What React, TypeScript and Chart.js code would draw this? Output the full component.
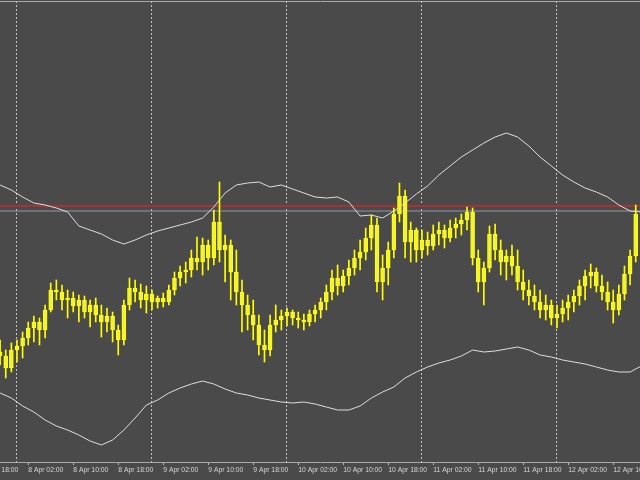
import { useEffect, useRef } from "react";
import { Chart, registerables } from "chart.js";

Chart.register(...registerables);

// Hourly candles, hours counted from 7 Apr 00:00; first candle = 7 Apr 21:00
const firstCandleHour = 21;

// Prices in points
const opens = [
  110, 106, 94, 112, 116, 124, 134, 140, 132, 152, 172, 170, 162, 164, 156, 162, 150, 157, 147, 140,
  146, 132, 122, 157, 174, 170, 162, 168, 160, 164, 160, 172, 184, 190, 192, 204, 200, 217, 204, 240,
  212, 217, 190, 170, 157, 147, 137, 117, 112, 137, 142, 146, 150, 144, 142, 140, 148, 152, 160, 170,
  184, 176, 186, 194, 204, 210, 224, 237, 180, 194, 212, 248, 266, 220, 232, 212, 222, 216, 228, 232,
  224, 234, 238, 242, 250, 204, 180, 194, 228, 212, 200, 206, 196, 180, 172, 166, 160, 152, 157, 144,
  148, 154, 160, 166, 176, 186, 190, 176, 170, 160, 152, 168, 188, 206,
];
const highs = [
  122, 112, 119, 122, 130, 140, 146, 144, 157, 179, 182, 177, 172, 170, 167, 166, 162, 164, 157, 154,
  150, 137, 162, 184, 182, 178, 176, 172, 166, 169, 177, 190, 196, 200, 212, 225, 224, 222, 252, 280,
  227, 222, 212, 182, 167, 162, 147, 132, 147, 157, 152, 154, 152, 150, 148, 152, 157, 164, 177, 192,
  197, 192, 202, 212, 222, 234, 247, 244, 207, 220, 254, 279, 272, 240, 234, 232, 230, 237, 240, 237,
  242, 244, 248, 255, 254, 212, 200, 236, 238, 222, 212, 217, 212, 192, 182, 177, 172, 167, 162, 157,
  162, 167, 172, 182, 192, 198, 194, 187, 180, 172, 177, 196, 212, 257,
];
const lows = [
  97, 84, 90, 100, 104, 117, 120, 117, 124, 150, 162, 152, 144, 150, 140, 144, 135, 140, 125, 130,
  120, 107, 117, 152, 160, 154, 149, 152, 154, 155, 157, 167, 176, 179, 185, 192, 187, 192, 197, 200,
  180, 162, 157, 130, 132, 122, 107, 100, 106, 130, 132, 136, 137, 134, 132, 136, 140, 144, 152, 162,
  167, 170, 177, 187, 192, 202, 212, 170, 162, 177, 204, 240, 204, 200, 200, 204, 207, 212, 217, 214,
  220, 224, 227, 232, 197, 170, 157, 190, 202, 187, 182, 187, 172, 162, 157, 152, 144, 142, 137, 134,
  140, 142, 150, 157, 162, 174, 170, 162, 152, 139, 147, 162, 177, 200,
];
const closes = [
  106, 94, 112, 116, 124, 134, 140, 132, 152, 172, 170, 162, 164, 156, 162, 150, 157, 147, 140, 146,
  132, 122, 157, 174, 170, 162, 168, 160, 164, 160, 172, 184, 190, 192, 204, 200, 217, 204, 240, 212,
  217, 190, 170, 157, 147, 137, 117, 112, 137, 142, 146, 150, 144, 142, 140, 148, 152, 160, 170, 184,
  176, 186, 194, 204, 210, 224, 237, 180, 194, 212, 248, 266, 220, 232, 212, 222, 216, 228, 232, 224,
  234, 238, 242, 250, 204, 180, 194, 228, 212, 200, 206, 196, 180, 172, 166, 160, 152, 157, 144, 148,
  154, 160, 166, 176, 186, 190, 176, 170, 160, 152, 168, 188, 206, 248,
];

// Envelope bands sampled every 2 hours from 7 Apr 21:00
const bandFirstHour = 21;
const bandStepHours = 2;
const upperBand = [
  277, 272, 265, 259, 257, 254, 250, 236, 232, 228, 222, 218, 222, 227, 231, 234, 237, 240, 244, 255,
  269, 277, 279, 280, 275, 277, 273, 269, 265, 264, 265, 260, 246, 247, 244, 251, 259, 268, 276, 287,
  296, 305, 312, 319, 325, 329, 325, 316, 305, 296, 287, 280, 274, 270, 265, 257, 251, 250,
];
const lowerBand = [
  69, 64, 56, 50, 42, 36, 32, 27, 21, 17, 22, 32, 44, 57, 62, 69, 74, 78, 81, 78,
  73, 69, 67, 64, 62, 60, 59, 60, 58, 55, 52, 52, 56, 64, 70, 75, 84, 90, 95, 99,
  102, 106, 112, 110, 111, 113, 115, 112, 107, 105, 102, 100, 98, 95, 92, 90, 90, 96,
];

// Horizontal levels
const redLevel = 256;
const greyLevel = 251;

// Axis
const tickHours = [18, 26, 34, 42, 50, 58, 66, 74, 82, 90, 98, 106, 114, 122, 130];
const tickLabels = [
  "7 Apr 18:00", "8 Apr 02:00", "8 Apr 10:00", "8 Apr 18:00", "9 Apr 02:00", "9 Apr 10:00",
  "9 Apr 18:00", "10 Apr 02:00", "10 Apr 10:00", "10 Apr 18:00", "11 Apr 02:00", "11 Apr 10:00",
  "11 Apr 18:00", "12 Apr 02:00", "12 Apr 10:00",
];
const dayHours = [24, 48, 72, 96, 120];
const viewStartHour = 20.98;
const viewEndHour = 134.76;
const priceMin = 0;
const priceMax = 461;

export default function App() {
  const canvasRef = useRef<HTMLCanvasElement>(null);

  useEffect(() => {
    document.body.style.margin = "0";
    const canvas = canvasRef.current;
    if (!canvas) return;

    const bodies = opens.map((o, i) => ({ x: firstCandleHour + i, y: [o, closes[i]] }));
    const wicks = lows.map((l, i) => ({ x: firstCandleHour + i, y: [l, highs[i]] }));
    const upper = upperBand.map((v, k) => ({ x: bandFirstHour + k * bandStepHours, y: v }));
    const lower = lowerBand.map((v, k) => ({ x: bandFirstHour + k * bandStepHours, y: v }));
    const red = [{ x: viewStartHour, y: redLevel }, { x: viewEndHour, y: redLevel }];
    const grey = [{ x: viewStartHour, y: greyLevel }, { x: viewEndHour, y: greyLevel }];

    const chart = new Chart(canvas, {
      type: "line",
      data: {
        datasets: [
          {
            type: "bar",
            data: bodies as any,
            backgroundColor: "#f2f238",
            borderColor: "#ffff00",
            borderWidth: 1,
            borderSkipped: false,
            barThickness: 4,
            minBarLength: 1,
            grouped: false,
            order: 0,
          } as any,
          {
            type: "bar",
            data: wicks as any,
            backgroundColor: "#ffff00",
            borderWidth: 0,
            barThickness: 1,
            grouped: false,
            order: 1,
          } as any,
          {
            type: "line",
            data: red,
            borderColor: "#a83232",
            borderWidth: 2,
            pointRadius: 0,
            order: 3,
          },
          {
            type: "line",
            data: grey,
            borderColor: "#8e9aab",
            borderWidth: 1,
            pointRadius: 0,
            order: 3,
          },
          {
            type: "line",
            data: upper,
            borderColor: "#dedede",
            borderWidth: 1,
            pointRadius: 0,
            tension: 0,
            order: 2,
          },
          {
            type: "line",
            data: lower,
            borderColor: "#dedede",
            borderWidth: 1,
            pointRadius: 0,
            tension: 0,
            order: 2,
          },
        ],
      },
      options: {
        responsive: false,
        animation: false,
        devicePixelRatio: 1,
        events: [],
        layout: { padding: { top: 1, left: 0, right: 0, bottom: 0 } },
        plugins: { legend: { display: false }, tooltip: { enabled: false } },
        scales: {
          x: {
            type: "linear",
            position: "bottom",
            min: viewStartHour,
            max: viewEndHour,
            offset: false,
            afterBuildTicks: (s: any) => {
              s.ticks = [...tickHours, ...dayHours].sort((a, b) => a - b).map((v) => ({ value: v }));
            },
            afterFit: (s: any) => {
              s.height = 18;
              s.paddingLeft = 0;
              s.paddingRight = 0;
            },
            ticks: {
              autoSkip: false,
              maxRotation: 0,
              minRotation: 0,
              align: "start",
              padding: 1,
              color: "#d6d6d6",
              font: { family: "Liberation Sans", size: 6.8 },
              callback: (v: any) => {
                const k = tickHours.indexOf(Number(v));
                return k >= 0 ? tickLabels[k] : "";
              },
            },
            grid: {
              display: true,
              drawOnChartArea: true,
              drawTicks: true,
              tickLength: 3,
              lineWidth: 1,
              offset: false,
              color: (c: any) => (dayHours.includes(c.tick?.value) ? "#c4c4c4" : "rgba(0,0,0,0)"),
              tickColor: (c: any) => (tickHours.includes(c.tick?.value) ? "#b8b8b8" : "rgba(0,0,0,0)"),
            },
            border: { display: true, color: "#a9a9a9", width: 1, dash: [2, 2] },
          },
          xTop: {
            type: "linear",
            position: "top",
            min: viewStartHour,
            max: viewEndHour,
            ticks: { display: false },
            grid: { display: false, drawTicks: false },
            border: { display: true, color: "#a9a9a9", width: 1 },
          },
          y: { display: false, min: priceMin, max: priceMax },
        },
      } as any,
    });

    return () => chart.destroy();
  }, []);

  return (
    <div style={{ width: 640, height: 480, background: "#4a4a4a" }}>
      <canvas ref={canvasRef} width={640} height={480} style={{ display: "block" }} />
    </div>
  );
}
